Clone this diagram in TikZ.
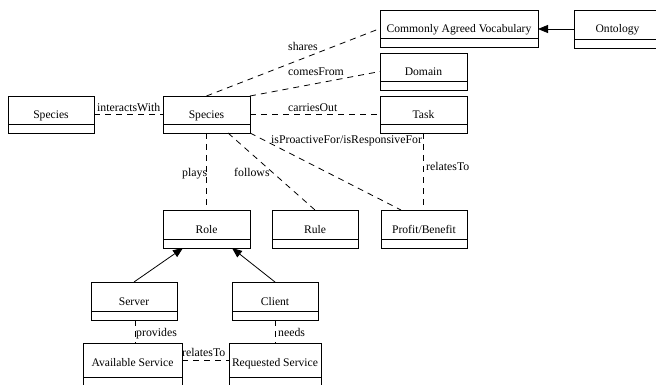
\documentclass[tikz,border=0pt]{standalone}
\usepackage{fontspec}
\setmainfont{Liberation Serif}
\usetikzlibrary{arrows.meta,calc}

\tikzset{
  classframe/.style={draw=black, line width=0.9pt, inner sep=0pt, outer sep=0pt},
  divider/.style={draw=black, line width=0.9pt},
  assoc/.style={draw=black, line width=0.8pt, dash pattern=on 6pt off 5pt},
  generalize/.style={draw=black, line width=0.8pt, -{Triangle[length=10pt,width=8pt]}},
  lbl/.style={font=\fontsize{11.8}{13}\selectfont, inner sep=0pt, anchor=base west},
  classname/.style={font=\fontsize{11.6}{13}\selectfont, inner sep=0pt, anchor=base},
}

% UML class box: #1 node name, #2 left, #3 top, #4 right, #5 bottom, #6 class name
\newcommand{\umlclass}[6]{%
  \node[classframe, anchor=north west,
        minimum width={#4pt-#2pt}, minimum height={#5pt-#3pt}] (#1) at (#2,#3) {};
  \draw[divider] ([yshift=9pt]#1.south west) -- ([yshift=9pt]#1.south east);
  \node[classname] (#1-name) at ([yshift=-23pt]#1.north) {#6};
}

\begin{document}
\begin{tikzpicture}[x=1pt,y=-1pt]
  \path[use as bounding box, clip] (0,0) rectangle (656,385);
  \fill[white] (0,0) rectangle (656,385);

  % classes
  \umlclass{cav}{380}{10}{538}{47}{Commonly Agreed Vocabulary}
  \umlclass{onto}{574}{10}{661}{48}{Ontology}
  \umlclass{dom}{380}{53}{467}{90}{Domain}
  \umlclass{task}{380}{96}{467}{133}{Task}
  \umlclass{other}{8}{96}{94}{133}{Species}
  \umlclass{sp}{163}{96}{250}{133}{Species}
  \umlclass{role}{163}{210}{250}{248}{Role}
  \umlclass{rule}{272}{210}{358}{248}{Rule}
  \umlclass{pb}{381}{210}{467}{248}{Profit/Benefit}
  \umlclass{server}{91}{282}{177}{320}{Server}
  \umlclass{client}{232}{282}{318}{320}{Client}
  \umlclass{avail}{83}{343}{182}{386}{Available Service}
  \umlclass{req}{229}{343}{321}{386}{Requested Service}

  % generalizations
  \draw[generalize] (onto.west) -- (onto.west -| cav.east);
  \draw[generalize] (server.north) -- ([xshift=20pt]role.south west);
  \draw[generalize] (client.north) -- ([xshift=-18pt]role.south east);

  % associations
  \draw[assoc] (sp.north) -- (cav.west);
  \draw[assoc] (sp.north east) -- (dom.west);
  \draw[assoc] (sp.east) -- (task.west);
  \draw[assoc] (other.east) -- (sp.west);
  \draw[assoc] (sp.south east) -- ([xshift=20pt]pb.north west);
  \draw[assoc] (task.south) -- (task.south |- pb.north);
  \draw[assoc] (sp.south) -- (role.north);
  \draw[assoc] ([xshift=-22pt]sp.south east) -- (rule.north);
  \draw[assoc] ([xshift=1pt]server.south) -- ([xshift=1pt]server.south |- avail.north);
  \draw[assoc] (client.south) -- (client.south |- req.north);
  \draw[assoc] ([yshift=4pt]avail.east) -- ([yshift=4pt]avail.east -| req.west);

  % association labels
  \node[lbl] (l-shares) at (288,51) {shares};
  \node[lbl] (l-comes) at (288,76) {comesFrom};
  \node[lbl] (l-carries) at (288,112) {carriesOut};
  \node[lbl] (l-inter) at (97,112) {interactsWith};
  \node[lbl] (l-pro) at (271,143) {isProactiveFor/isResponsiveFor};
  \node[lbl] (l-rel1) at (426,171) {relatesTo};
  \node[lbl] (l-plays) at (182,176) {plays};
  \node[lbl] (l-follows) at (234,176) {follows};
  \node[lbl] (l-provides) at (136,336) {provides};
  \node[lbl] (l-needs) at (278,336) {needs};
  \node[lbl] (l-rel2) at (182,356) {relatesTo};
\end{tikzpicture}
\end{document}
